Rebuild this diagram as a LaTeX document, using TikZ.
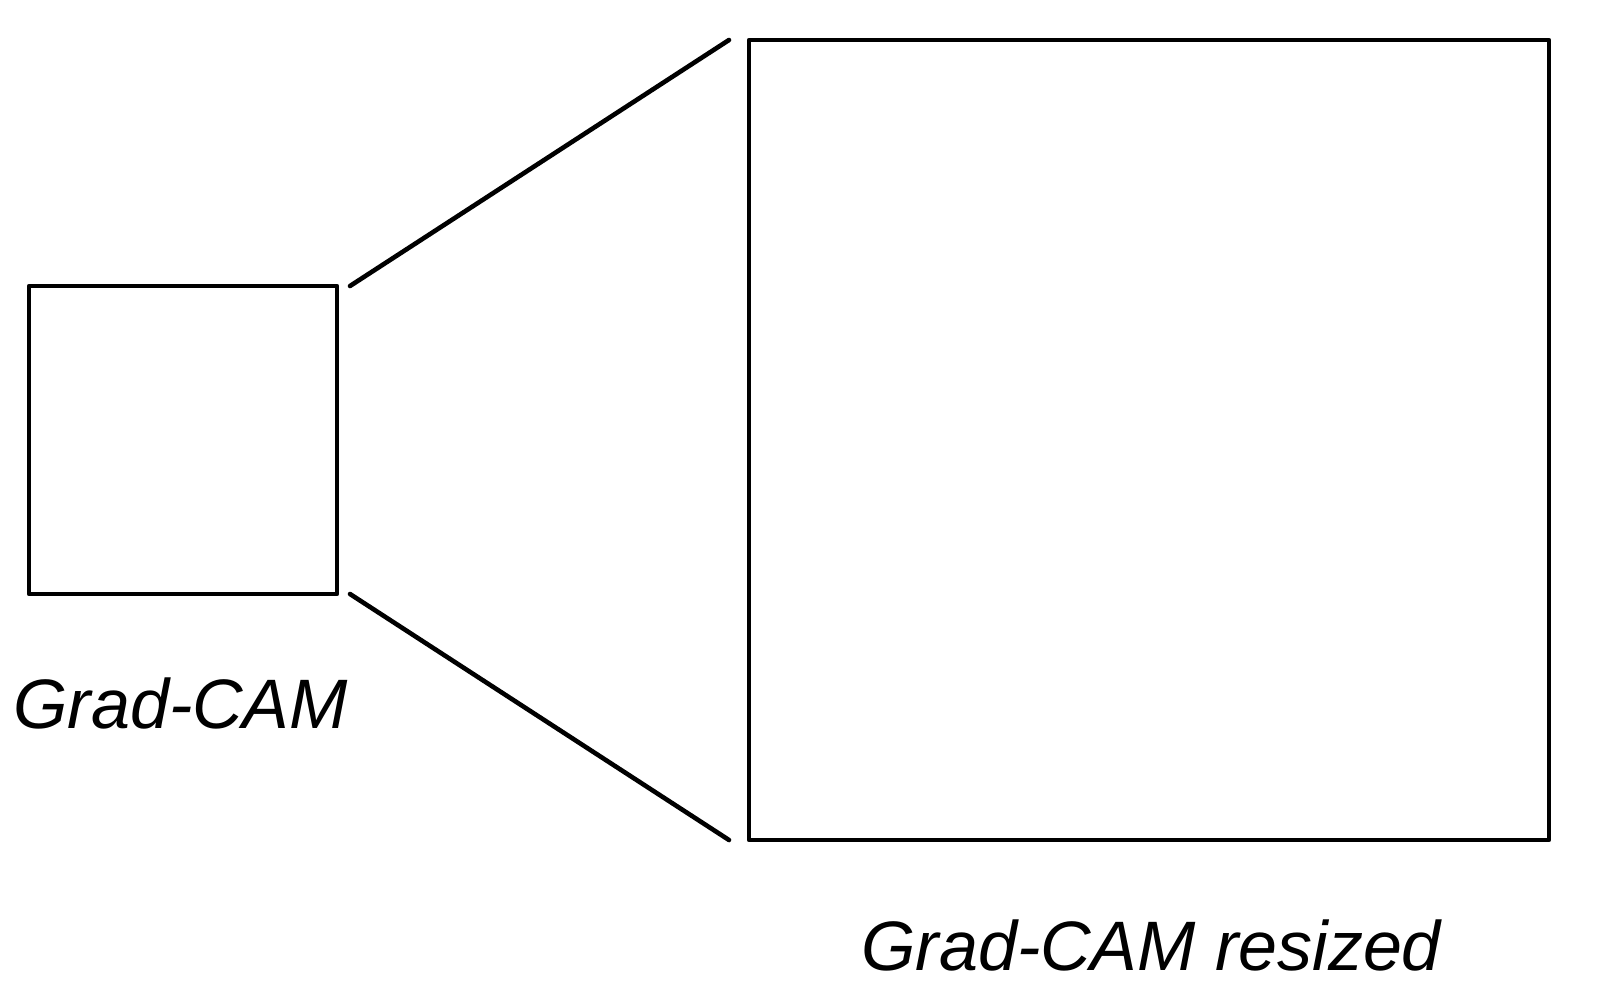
\documentclass[tikz,border=0pt]{standalone}
\usepackage{fontspec}
\setmainfont{Liberation Sans}
\begin{document}
\begin{tikzpicture}[x=0.5pt,y=-0.5pt,
  box/.style={draw=black,line width=2.3pt,line join=round,inner sep=0pt,outer sep=0pt},
  conn/.style={draw=black,line width=2.3pt,line cap=round},
  lbl/.style={inner sep=0pt,anchor=base west,font=\fontsize{35pt}{42pt}\selectfont\itshape}]
\useasboundingbox (0,0) rectangle (1600,996);
\node[box,minimum width=154pt,minimum height=154pt,anchor=north west] (small) at (29,286) {};
\node[box,minimum width=400pt,minimum height=400pt,anchor=north west] (big) at (749,40) {};
\coordinate (s1) at (350,286);
\coordinate (s2) at (350,594);
\coordinate (b1) at (729,40);
\coordinate (b2) at (729,840);
\draw[conn] (s1) -- (b1);
\draw[conn] (s2) -- (b2);
\node[lbl] (t1) at (13,728) {Grad-CAM};
\node[lbl] (t2) at (861,970) {Grad-CAM resized};
\end{tikzpicture}
\end{document}
